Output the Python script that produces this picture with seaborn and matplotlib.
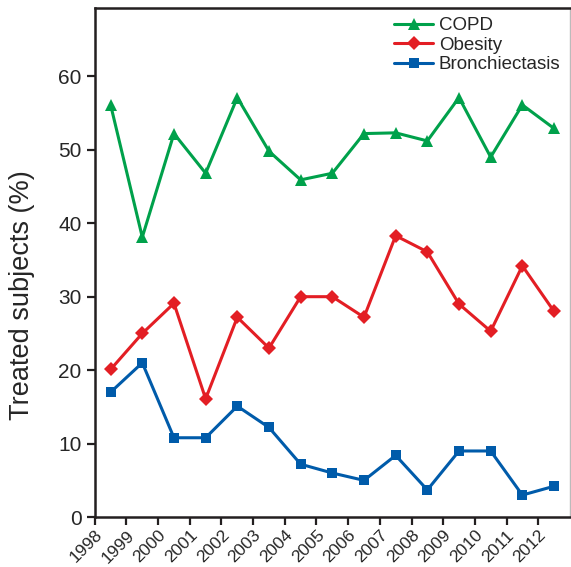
import pandas as pd
import numpy as np
import seaborn as sns
import matplotlib.pyplot as plt

# Values
years = list(range(1998, 2013))
copd = [56.1, 38.1, 52.2, 46.8, 57.1, 49.8, 45.9, 46.8, 52.2, 52.3, 51.2, 57.1, 49.0, 56.1, 52.9]
obesity = [20.1, 25.0, 29.1, 16.1, 27.2, 23.0, 30.0, 30.0, 27.2, 38.3, 36.1, 29.0, 25.3, 34.2, 28.0]
bronchiectasis = [17.0, 21.0, 10.8, 10.8, 15.1, 12.2, 7.2, 6.0, 5.0, 8.4, 3.7, 9.0, 9.0, 3.0, 4.2]

series_names = ["COPD", "Obesity", "Bronchiectasis"]
colors = {"COPD": "#00a14b", "Obesity": "#e31e24", "Bronchiectasis": "#005baa"}
markers = {"COPD": "^", "Obesity": "D", "Bronchiectasis": "s"}
sizes = {"COPD": 9, "Obesity": 7.5, "Bronchiectasis": 7.5}

# points sit in the middle of each year interval
df = pd.DataFrame({
    "year": np.array(years * 3) + 0.5,
    "value": copd + obesity + bronchiectasis,
    "disease": np.repeat(series_names, len(years)),
})

sns.set_style("ticks")
plt.rcParams['font.family'] = ['Liberation Sans', 'DejaVu Sans']

fig = plt.figure(figsize=(5.71, 5.67), dpi=100)
ax = fig.add_axes([0.166, 0.088, 0.832, 0.898])

for name in series_names:
    sub = df[df["disease"] == name]
    sns.lineplot(data=sub, x="year", y="value", ax=ax, color=colors[name],
                 marker=markers[name], markersize=sizes[name], markeredgewidth=0,
                 linewidth=2.2, label=name)

ax.set_xlim(1998, 2013)
ax.set_ylim(0, 69.3)
ax.set_xticks(years)
ax.set_xticklabels([str(y) for y in years], rotation=45, ha="right",
                   rotation_mode="anchor", fontsize=12.5)
ax.set_yticks(range(0, 70, 10))
ax.tick_params(axis="y", labelsize=15)
ax.tick_params(direction="out", length=6, width=1.6, color="#231f20")
ax.tick_params(axis="x", pad=1.5)
ax.set_xlabel("")
ax.set_ylabel("Treated subjects (%)", fontsize=19.5)
ax.yaxis.set_label_coords(-0.125, 0.436)
for side in ax.spines.values():
    side.set_linewidth(1.8)
    side.set_color("#231f20")
ax.spines["right"].set_color("#bbbbbb")
ax.spines["right"].set_linewidth(1.0)

leg = ax.legend(loc="upper right", frameon=False, fontsize=13.5,
                handlelength=2.1, handletextpad=0.3, labelspacing=0.12,
                borderaxespad=0.0, borderpad=0.5, bbox_to_anchor=(1.0, 1.0))

fig.savefig("out.png", dpi=100)
